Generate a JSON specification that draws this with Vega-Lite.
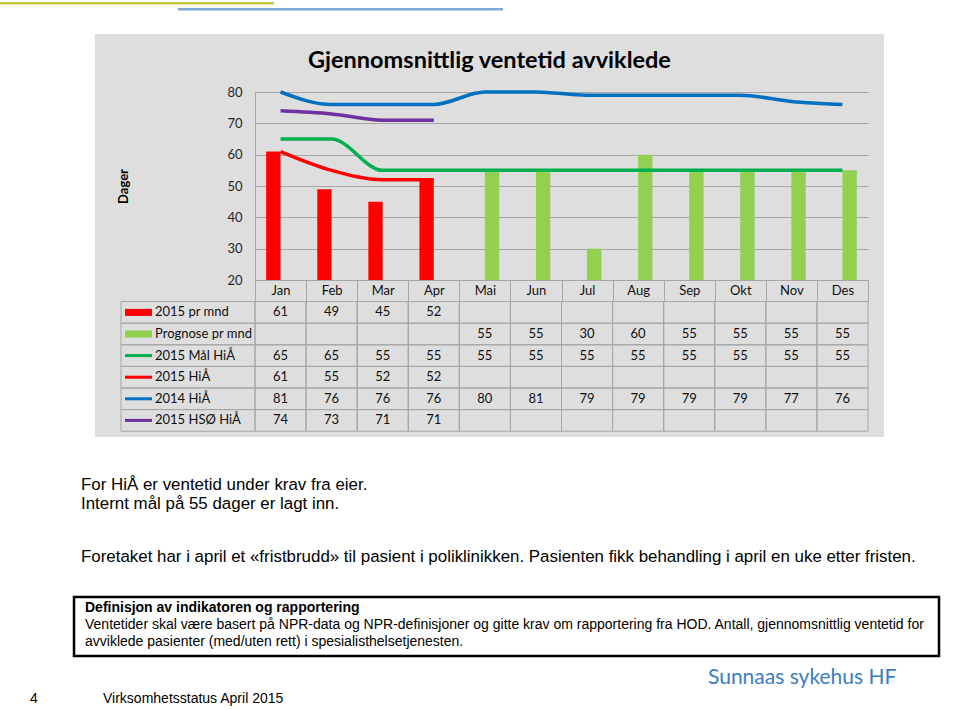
{
  "$schema": "https://vega.github.io/schema/vega-lite/v6.json",
  "padding": 0,
  "background": "white",
  "spacing": 0,
  "config": {"view": {"stroke": null}, "concat": {"spacing": 0}, "font": "Lato"},
  "datasets": {
    "tbl": [
      {"series": "2015 pr mnd", "month": "Jan", "value": 61},
      {"series": "2015 pr mnd", "month": "Feb", "value": 49},
      {"series": "2015 pr mnd", "month": "Mar", "value": 45},
      {"series": "2015 pr mnd", "month": "Apr", "value": 52},
      {"series": "2015 pr mnd", "month": "Mai", "value": null},
      {"series": "2015 pr mnd", "month": "Jun", "value": null},
      {"series": "2015 pr mnd", "month": "Jul", "value": null},
      {"series": "2015 pr mnd", "month": "Aug", "value": null},
      {"series": "2015 pr mnd", "month": "Sep", "value": null},
      {"series": "2015 pr mnd", "month": "Okt", "value": null},
      {"series": "2015 pr mnd", "month": "Nov", "value": null},
      {"series": "2015 pr mnd", "month": "Des", "value": null},
      {"series": "Prognose pr mnd", "month": "Jan", "value": null},
      {"series": "Prognose pr mnd", "month": "Feb", "value": null},
      {"series": "Prognose pr mnd", "month": "Mar", "value": null},
      {"series": "Prognose pr mnd", "month": "Apr", "value": null},
      {"series": "Prognose pr mnd", "month": "Mai", "value": 55},
      {"series": "Prognose pr mnd", "month": "Jun", "value": 55},
      {"series": "Prognose pr mnd", "month": "Jul", "value": 30},
      {"series": "Prognose pr mnd", "month": "Aug", "value": 60},
      {"series": "Prognose pr mnd", "month": "Sep", "value": 55},
      {"series": "Prognose pr mnd", "month": "Okt", "value": 55},
      {"series": "Prognose pr mnd", "month": "Nov", "value": 55},
      {"series": "Prognose pr mnd", "month": "Des", "value": 55},
      {"series": "2015 Mål HiÅ", "month": "Jan", "value": 65},
      {"series": "2015 Mål HiÅ", "month": "Feb", "value": 65},
      {"series": "2015 Mål HiÅ", "month": "Mar", "value": 55},
      {"series": "2015 Mål HiÅ", "month": "Apr", "value": 55},
      {"series": "2015 Mål HiÅ", "month": "Mai", "value": 55},
      {"series": "2015 Mål HiÅ", "month": "Jun", "value": 55},
      {"series": "2015 Mål HiÅ", "month": "Jul", "value": 55},
      {"series": "2015 Mål HiÅ", "month": "Aug", "value": 55},
      {"series": "2015 Mål HiÅ", "month": "Sep", "value": 55},
      {"series": "2015 Mål HiÅ", "month": "Okt", "value": 55},
      {"series": "2015 Mål HiÅ", "month": "Nov", "value": 55},
      {"series": "2015 Mål HiÅ", "month": "Des", "value": 55},
      {"series": "2015 HiÅ", "month": "Jan", "value": 61},
      {"series": "2015 HiÅ", "month": "Feb", "value": 55},
      {"series": "2015 HiÅ", "month": "Mar", "value": 52},
      {"series": "2015 HiÅ", "month": "Apr", "value": 52},
      {"series": "2015 HiÅ", "month": "Mai", "value": null},
      {"series": "2015 HiÅ", "month": "Jun", "value": null},
      {"series": "2015 HiÅ", "month": "Jul", "value": null},
      {"series": "2015 HiÅ", "month": "Aug", "value": null},
      {"series": "2015 HiÅ", "month": "Sep", "value": null},
      {"series": "2015 HiÅ", "month": "Okt", "value": null},
      {"series": "2015 HiÅ", "month": "Nov", "value": null},
      {"series": "2015 HiÅ", "month": "Des", "value": null},
      {"series": "2014 HiÅ", "month": "Jan", "value": 81},
      {"series": "2014 HiÅ", "month": "Feb", "value": 76},
      {"series": "2014 HiÅ", "month": "Mar", "value": 76},
      {"series": "2014 HiÅ", "month": "Apr", "value": 76},
      {"series": "2014 HiÅ", "month": "Mai", "value": 80},
      {"series": "2014 HiÅ", "month": "Jun", "value": 81},
      {"series": "2014 HiÅ", "month": "Jul", "value": 79},
      {"series": "2014 HiÅ", "month": "Aug", "value": 79},
      {"series": "2014 HiÅ", "month": "Sep", "value": 79},
      {"series": "2014 HiÅ", "month": "Okt", "value": 79},
      {"series": "2014 HiÅ", "month": "Nov", "value": 77},
      {"series": "2014 HiÅ", "month": "Des", "value": 76},
      {"series": "2015 HSØ HiÅ", "month": "Jan", "value": 74},
      {"series": "2015 HSØ HiÅ", "month": "Feb", "value": 73},
      {"series": "2015 HSØ HiÅ", "month": "Mar", "value": 71},
      {"series": "2015 HSØ HiÅ", "month": "Apr", "value": 71},
      {"series": "2015 HSØ HiÅ", "month": "Mai", "value": null},
      {"series": "2015 HSØ HiÅ", "month": "Jun", "value": null},
      {"series": "2015 HSØ HiÅ", "month": "Jul", "value": null},
      {"series": "2015 HSØ HiÅ", "month": "Aug", "value": null},
      {"series": "2015 HSØ HiÅ", "month": "Sep", "value": null},
      {"series": "2015 HSØ HiÅ", "month": "Okt", "value": null},
      {"series": "2015 HSØ HiÅ", "month": "Nov", "value": null},
      {"series": "2015 HSØ HiÅ", "month": "Des", "value": null}
    ],
    "series": [
      {"series": "2015 pr mnd", "kind": "bar"},
      {"series": "Prognose pr mnd", "kind": "bar"},
      {"series": "2015 Mål HiÅ", "kind": "line"},
      {"series": "2015 HiÅ", "kind": "line"},
      {"series": "2014 HiÅ", "kind": "line"},
      {"series": "2015 HSØ HiÅ", "kind": "line"}
    ]
  },
  "vconcat": [
    {"width": 960, "height": 1.5, "data": {"values": []}, "mark": "rect", "encoding": {}},
    {"width": 274, "height": 2.5, "view": {"fill": "#c8c83c", "stroke": null}, "data": {"values": []}, "mark": "rect", "encoding": {}},
    {"width": 960, "height": 2.5, "data": {"values": []}, "mark": "rect", "encoding": {}},
    {
      "spacing": 0,
      "hconcat": [
        {"width": 178, "height": 2.5, "data": {"values": []}, "mark": "rect", "encoding": {}},
        {"width": 325, "height": 2.5, "view": {"fill": "#7eaad6", "stroke": null}, "data": {"values": []}, "mark": "rect", "encoding": {}}
      ]
    },
    {"width": 960, "height": 23, "data": {"values": []}, "mark": "rect", "encoding": {}},
    {
      "spacing": 0,
      "hconcat": [
        {"width": 95, "height": 403, "data": {"values": []}, "mark": "rect", "encoding": {}},
        {
          "width": 789, "height": 403,
          "view": {"fill": "#dedede", "stroke": null},
          "title": {"text": "Gjennomsnittlig ventetid avviklede", "font": "Lato", "fontSize": 23.5, "fontWeight": "bold", "color": "#000000", "anchor": "middle", "frame": "group", "offset": -38.6},
          "resolve": {"scale": {"x": "independent", "y": "independent"}},
          "layer": [
            {
              "data": {"name": "tbl"},
              "encoding": {
                "x": {"field": "month", "type": "ordinal", "sort": ["Jan","Feb","Mar","Apr","Mai","Jun","Jul","Aug","Sep","Okt","Nov","Des"],
                  "scale": {"domain": ["Jan","Feb","Mar","Apr","Mai","Jun","Jul","Aug","Sep","Okt","Nov","Des"], "range": [160, 773], "paddingInner": 0, "paddingOuter": 0},
                  "axis": {"orient": "bottom", "offset": -157, "tickBand": "extent", "ticks": true, "tickSize": 21.6, "tickColor": "#a6a6a6", "tickWidth": 1, "domain": true, "domainColor": "#a6a6a6", "labelPadding": -10.8, "labelBaseline": "middle", "labelAngle": 0, "labelFont": "Lato", "labelFontSize": 13, "labelColor": "#111111", "title": null, "grid": false}}
              },
              "layer": [
                {
                  "transform": [{"filter": "datum.value != null && (datum.series == '2015 pr mnd' || datum.series == 'Prognose pr mnd')"}],
                  "mark": {"type": "bar"},
                  "encoding": {
                    "xOffset": {"field": "series", "type": "nominal", "scale": {"domain": ["2015 pr mnd", "Prognose pr mnd"], "paddingInner": 0, "paddingOuter": 0.78}},
                    "y": {"field": "value", "type": "quantitative", "scale": {"domain": [20, 80], "range": [246, 58], "nice": false, "zero": false, "clamp": true},
                      "axis": {"orient": "left", "offset": -160, "values": [20, 30, 40, 50, 60, 70, 80], "grid": true, "gridColor": "#a6a6a6", "gridWidth": 1, "domain": true, "domainColor": "#a6a6a6", "ticks": false, "labelPadding": 13, "labelFont": "Lato", "labelFontSize": 13, "labelColor": "#262626",
                        "title": "Dager", "titleFont": "Lato", "titleFontSize": 13, "titleFontWeight": "bold", "titleColor": "#000000", "titleX": -132, "titleY": 152, "titleAngle": -90, "titleBaseline": "middle", "titleAlign": "center"}},
                    "y2": {"datum": 20},
                    "color": {"field": "series", "type": "nominal", "scale": {"domain": ["2015 pr mnd", "Prognose pr mnd", "2015 Mål HiÅ", "2015 HiÅ", "2014 HiÅ", "2015 HSØ HiÅ"], "range": ["#ff0000", "#92d050", "#00b050", "#ff0000", "#0070c0", "#7030a0"]}, "legend": null}
                  }
                },
                {
                  "transform": [{"filter": "datum.value != null && datum.series != '2015 pr mnd' && datum.series != 'Prognose pr mnd'"}],
                  "mark": {"type": "line", "interpolate": "monotone", "strokeWidth": 3.5},
                  "encoding": {
                    "y": {"field": "value", "type": "quantitative"},
                    "color": {"field": "series", "type": "nominal", "legend": null}
                  }
                }
              ]
            },
            {
              "data": {"name": "tbl"},
              "encoding": {
                "x": {"field": "month", "type": "ordinal", "sort": ["Jan","Feb","Mar","Apr","Mai","Jun","Jul","Aug","Sep","Okt","Nov","Des"],
                  "scale": {"domain": ["Jan","Feb","Mar","Apr","Mai","Jun","Jul","Aug","Sep","Okt","Nov","Des"], "range": [160, 773], "paddingInner": 0, "paddingOuter": 0}, "axis": null},
                "y": {"field": "series", "type": "nominal", "scale": {"type": "band", "domain": ["2015 pr mnd", "Prognose pr mnd", "2015 Mål HiÅ", "2015 HiÅ", "2014 HiÅ", "2015 HSØ HiÅ"], "range": [267.6, 397.2], "paddingInner": 0, "paddingOuter": 0}, "axis": null}
              },
              "layer": [
                {"mark": {"type": "rect", "fill": "transparent", "stroke": "#a6a6a6", "strokeWidth": 1}},
                {
                  "transform": [{"filter": "datum.value != null"}],
                  "mark": {"type": "text", "font": "Lato", "fontSize": 13, "color": "#111111"},
                  "encoding": {"text": {"field": "value", "type": "quantitative"}}
                }
              ]
            },
            {
              "data": {"name": "series"},
              "encoding": {
                "y": {"field": "series", "type": "nominal", "scale": {"type": "band", "domain": ["2015 pr mnd", "Prognose pr mnd", "2015 Mål HiÅ", "2015 HiÅ", "2014 HiÅ", "2015 HSØ HiÅ"], "range": [267.6, 397.2], "paddingInner": 0, "paddingOuter": 0}, "axis": null}
              },
              "resolve": {"scale": {"x": "independent"}},
              "layer": [
                {
                  "mark": {"type": "rect", "fill": "transparent", "stroke": "#a6a6a6", "strokeWidth": 1},
                  "encoding": {"x": {"datum": "labcol", "type": "nominal", "scale": {"type": "band", "domain": ["labcol"], "range": [26, 160], "paddingInner": 0, "paddingOuter": 0}, "axis": null}}
                },
                {
                  "layer": [
                    {
                      "transform": [{"filter": "datum.kind == 'bar'"}],
                      "mark": {"type": "tick", "orient": "horizontal", "size": 27, "thickness": 7, "opacity": 1},
                      "encoding": {
                        "x": {"datum": "sym", "type": "nominal", "scale": {"type": "point", "domain": ["sym", "lab"], "range": [43.5, 60], "padding": 0}, "axis": null},
                        "color": {"field": "series", "type": "nominal", "legend": null}
                      }
                    },
                    {
                      "transform": [{"filter": "datum.kind == 'line'"}],
                      "mark": {"type": "tick", "orient": "horizontal", "size": 27, "thickness": 3, "opacity": 1},
                      "encoding": {
                        "x": {"datum": "sym", "type": "nominal"},
                        "color": {"field": "series", "type": "nominal", "legend": null}
                      }
                    },
                    {
                      "mark": {"type": "text", "align": "left", "font": "Lato", "fontSize": 13, "color": "#111111"},
                      "encoding": {
                        "x": {"datum": "lab", "type": "nominal"},
                        "text": {"field": "series", "type": "nominal"}
                      }
                    }
                  ]
                }
              ]
            }
          ]
        }
      ]
    },
    {
      "spacing": 0,
      "hconcat": [
        {"width": 72, "height": 217, "data": {"values": []}, "mark": "rect", "encoding": {}},
        {
          "spacing": 0,
          "vconcat": [
            {
              "width": 867, "height": 158,
              "data": {"values": []}, "mark": "rect", "encoding": {},
              "title": {
                "text": ["For HiÅ er ventetid under krav fra eier.", "Internt mål på 55 dager er lagt inn."],
                "subtitle": "Foretaket har i april et «fristbrudd» til pasient i poliklinikken. Pasienten fikk behandling i april en uke etter fristen.",
                "orient": "top", "anchor": "start", "frame": "group", "offset": -129.2, "dx": 7,
                "font": "Liberation Sans", "fontSize": 16.9, "fontWeight": "normal", "color": "#000000", "lineHeight": 18.5,
                "subtitleFont": "Liberation Sans", "subtitleFontSize": 16.9, "subtitleColor": "#000000", "subtitlePadding": 36.6
              }
            },
            {
              "width": 865, "height": 59,
              "view": {"fill": "#ffffff", "stroke": "#000000", "strokeWidth": 2.5},
              "data": {"values": []}, "mark": "rect", "encoding": {},
              "title": {
                "text": "Definisjon av indikatoren og rapportering",
                "subtitle": ["Ventetider skal være basert på NPR-data og NPR-definisjoner og gitte krav om rapportering fra HOD. Antall, gjennomsnittlig ventetid for", "avviklede pasienter (med/uten rett)  i spesialisthelsetjenesten."],
                "orient": "top", "anchor": "start", "frame": "group", "offset": -52.4, "dx": 11,
                "font": "Liberation Sans", "fontSize": 14, "fontWeight": "bold", "color": "#000000",
                "subtitleFont": "Liberation Sans", "subtitleFontSize": 14, "subtitleColor": "#000000", "subtitleLineHeight": 17, "subtitlePadding": 3
              }
            }
          ]
        }
      ]
    },
    {
      "spacing": 0,
      "hconcat": [
        {"width": 30, "height": 55, "data": {"values": []}, "mark": "rect", "encoding": {}},
        {
          "width": 73, "height": 55, "data": {"values": []}, "mark": "rect", "encoding": {},
          "title": {"text": "4", "orient": "top", "anchor": "start", "frame": "group", "offset": -48.1, "font": "Liberation Sans", "fontSize": 14, "fontWeight": "normal", "color": "#000000"}
        },
        {
          "width": 605, "height": 55, "data": {"values": []}, "mark": "rect", "encoding": {},
          "title": {"text": "Virksomhetsstatus April 2015", "orient": "top", "anchor": "start", "frame": "group", "offset": -48.1, "font": "Liberation Sans", "fontSize": 14, "fontWeight": "normal", "color": "#000000"}
        },
        {
          "width": 252, "height": 55, "data": {"values": []}, "mark": "rect", "encoding": {},
          "title": {"text": "Sunnaas sykehus HF", "orient": "top", "anchor": "start", "frame": "group", "offset": -29.8, "font": "Lato", "fontSize": 21, "fontWeight": "normal", "color": "#3b7dc4"}
        }
      ]
    }
  ]
}
